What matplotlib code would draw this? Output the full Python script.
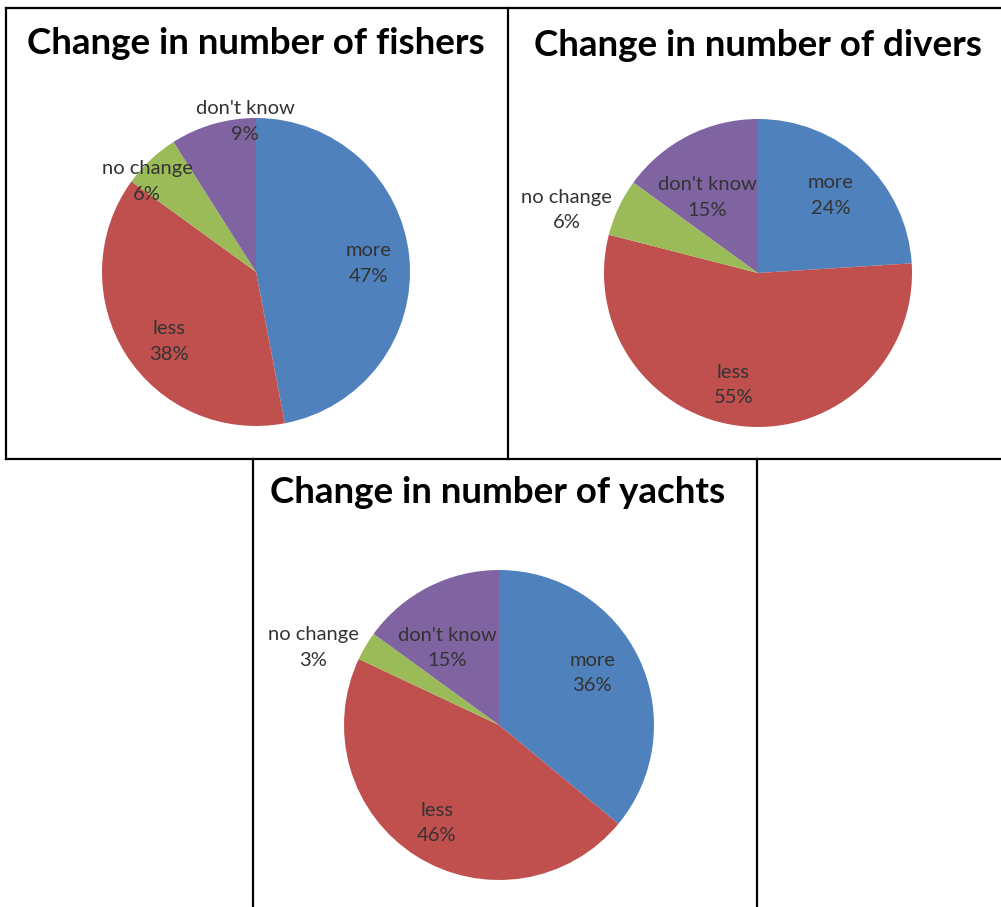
import matplotlib
matplotlib.use('Agg')
import matplotlib.pyplot as plt
from matplotlib.lines import Line2D
import numpy as np

# Data
categories = ['more', 'less', 'no change', "don't know"]
fishers = [47, 38, 6, 9]
divers = [24, 55, 6, 15]
yachts = [36, 46, 3, 15]
titles = ['Change in number of fishers', 'Change in number of divers', 'Change in number of yachts']

colors = ['#4F81BD', '#C0504D', '#9BBB59', '#8064A2']

W, H = 1001, 907
plt.rcParams['font.family'] = ['Lato', 'DejaVu Sans']

fig = plt.figure(figsize=(W / 100, H / 100), dpi=100)
fig.patch.set_facecolor('white')


def fx(x):
    return x / W


def fy(y):
    return 1 - y / H


def hline(x0, x1, y):
    fig.add_artist(Line2D([fx(x0), fx(x1)], [fy(y), fy(y)], color='black', lw=1.6, transform=fig.transFigure))


def vline(x, y0, y1):
    fig.add_artist(Line2D([fx(x), fx(x)], [fy(y0), fy(y1)], color='black', lw=1.6, transform=fig.transFigure))


def draw_pie(values, title, cx, cy, r, tx, ty, label_dist, label_rot):
    ax = fig.add_axes([fx(cx - r), fy(cy + r), 2 * r / W, 2 * r / H])
    wedges, _ = ax.pie(values, colors=colors, startangle=90, counterclock=False,
                       radius=1, wedgeprops=dict(linewidth=0))
    ax.set_xlim(-1, 1)
    ax.set_ylim(-1, 1)
    ax.set_aspect('equal')
    ax.axis('off')
    for w, name, v, d, rot in zip(wedges, categories, values, label_dist, label_rot):
        mid = np.deg2rad((w.theta1 + w.theta2) / 2 + rot)
        ax.text(d * np.cos(mid), d * np.sin(mid), f'{name}\n{v}%', ha='center', va='center',
                fontsize=14.5, color='#333333', linespacing=1.6, clip_on=False)
    fig.text(fx(tx), fy(ty), title, ha='center', va='center', fontsize=26.5,
             fontweight='bold', color='black')


draw_pie(fishers, titles[0], 256, 272, 154, 256, 43,
         [0.73, 0.725, 0.92, 0.98], [-1, 6, 7, -12])
draw_pie(divers, titles[1], 758, 273, 154, 758, 45,
         [0.69, 0.745, 1.31, 0.59], [0, -7, 7, 7])
draw_pie(yachts, titles[2], 499, 725, 155, 498, 493,
         [0.69, 0.75, 1.30, 0.60], [4, 0, 8, 7])

# panel borders
hline(6, 1001, 8)
vline(6, 8, 459)
vline(508.5, 8, 459)
hline(6, 1001, 459)
vline(253.5, 459, 907)
vline(757, 459, 907)

fig.savefig('out.png', dpi=100, facecolor='white')
